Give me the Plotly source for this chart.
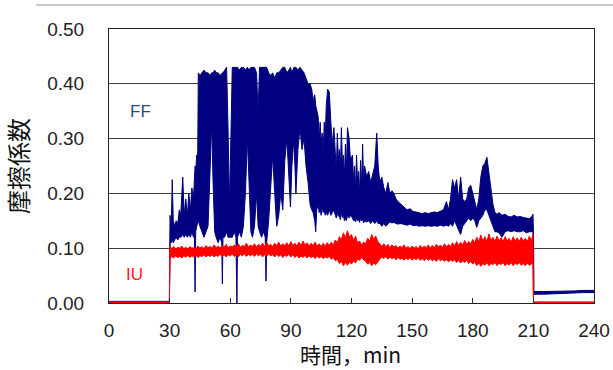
import plotly.graph_objects as go

# ---- FF series (friction coefficient), upper / lower envelope of the dense signal ----
ff_t = [0, 29.9, 30.2, 30.8, 31.3, 31.8, 32.5, 33.2, 34.0, 34.8, 35.5, 36.5, 37.2, 38.0, 38.8, 39.5,
        40.3, 41.0, 41.8, 42.3, 42.6, 42.9, 43.4, 43.9,
        44.2, 45, 46, 47, 48, 49, 50, 50.8, 51.5, 52.3, 53, 54, 55, 55.8, 56.1, 56.4, 57.2, 58.2,
        58.9, 59.6, 60.3, 61, 62, 62.8, 63.3, 63.6, 64.5, 65.5, 66.5, 67.5, 68.5, 69.3, 70.2, 71,
        72, 73, 73.8, 74.5, 75.5, 76.5, 77.3, 77.7, 78, 79, 80, 81, 82, 83, 84, 85, 86, 87, 88, 89,
        89.8, 90.5, 91.5, 92.5, 93.5, 94.5, 95.5, 96.5, 97.5, 98.5, 99.5,
        100.3, 101, 101.8, 102.3, 102.8, 103.5, 104, 104.5, 105, 105.5, 106, 106.5, 107, 107.5, 108.2, 109, 109.8,
        110.5, 111.3, 112, 112.5, 113, 113.5, 114, 114.5, 115, 115.5, 116, 116.5, 117, 117.5, 118, 118.8, 119.5,
        120.5, 121, 121.5, 122, 122.5, 123, 123.5, 124, 124.5, 125, 125.5, 126, 126.5, 127.5, 128.5, 129.5,
        130.5, 131.5, 132.5, 133.2, 134, 135, 136, 137,
        138, 139, 140, 141, 142, 143, 144.5, 146, 147.5, 149, 150.5, 152, 153.5, 155, 156.5, 158,
        159.5, 161, 162.5, 164, 165.5, 167, 168, 169, 170, 171, 172, 173, 174, 175, 176, 177, 178,
        179, 180, 181, 182, 183, 184, 185, 186, 187, 188, 189, 190, 191, 192, 193, 194.5, 196,
        197.5, 199, 200.5, 202, 203.5, 205, 206.5, 208, 209.3, 209.8, 210.05, 210.3, 215, 220,
        225, 230, 235, 240]
ff_hi = [0.003, 0.003, 0.16, 0.14, 0.225, 0.15, 0.14, 0.15, 0.145, 0.17, 0.16, 0.23, 0.16, 0.19, 0.16, 0.20,
         0.17, 0.21, 0.19, 0.22, 0.25, 0.24, 0.27, 0.27,
         0.42, 0.415, 0.42, 0.425, 0.42, 0.42, 0.415, 0.42, 0.42, 0.425, 0.42, 0.42, 0.415, 0.42, 0.42, 0.42, 0.425, 0.43,
         0.32, 0.18, 0.30, 0.43, 0.43, 0.43, 0.43, 0.43, 0.425, 0.43, 0.43, 0.425, 0.43, 0.425, 0.43, 0.43,
         0.43, 0.42, 0.35, 0.43, 0.43, 0.43, 0.43, 0.43, 0.43, 0.42, 0.415, 0.42, 0.41, 0.42, 0.42, 0.425, 0.43, 0.43, 0.42, 0.425,
         0.43, 0.42, 0.43, 0.43, 0.425, 0.43, 0.425, 0.42, 0.41, 0.40, 0.40,
         0.39, 0.37, 0.38, 0.36, 0.35, 0.34, 0.30, 0.33, 0.29, 0.31, 0.27, 0.33, 0.30, 0.36, 0.39, 0.385, 0.33,
         0.29, 0.32, 0.28, 0.24, 0.31, 0.26, 0.28, 0.24, 0.32, 0.25, 0.27, 0.23, 0.29, 0.24, 0.32, 0.30, 0.26,
         0.27, 0.22, 0.25, 0.21, 0.27, 0.22, 0.24, 0.20, 0.26, 0.21, 0.29, 0.22, 0.25, 0.23, 0.24, 0.22,
         0.235, 0.25, 0.31, 0.25, 0.22, 0.23, 0.21, 0.20,
         0.22, 0.20, 0.205, 0.20, 0.19, 0.185, 0.18, 0.175, 0.17, 0.172, 0.167, 0.166, 0.165, 0.163, 0.165, 0.163,
         0.165, 0.166, 0.165, 0.167, 0.17, 0.185, 0.17, 0.19, 0.225, 0.21, 0.225, 0.19, 0.23, 0.19, 0.185, 0.19, 0.21,
         0.215, 0.20, 0.18, 0.17, 0.19, 0.23, 0.25, 0.255, 0.266, 0.24, 0.21, 0.18, 0.165, 0.162, 0.165, 0.16, 0.162,
         0.158, 0.157, 0.16, 0.157, 0.158, 0.156, 0.155, 0.154, 0.158, 0.162, 0.13, 0.021, 0.021, 0.021,
         0.022, 0.022, 0.023, 0.023]
ff_lo = [0.0, 0.0, 0.11, 0.11, 0.115, 0.11, 0.115, 0.12, 0.115, 0.12, 0.12, 0.125, 0.12, 0.125, 0.12, 0.125,
         0.12, 0.13, 0.12, 0.12, 0.02, 0.13, 0.14, 0.15,
         0.15, 0.14, 0.13, 0.12, 0.13, 0.14, 0.24, 0.33, 0.22, 0.13, 0.12, 0.11, 0.12, 0.11, 0.035, 0.12, 0.12, 0.13,
         0.12, 0.12, 0.12, 0.12, 0.13, 0.12, 0.0, 0.12, 0.13, 0.12, 0.14, 0.20, 0.30, 0.22, 0.13, 0.12,
         0.14, 0.20, 0.14, 0.13, 0.12, 0.13, 0.12, 0.04, 0.11, 0.15, 0.22, 0.27, 0.20, 0.14, 0.16, 0.20, 0.17, 0.26, 0.30, 0.22,
         0.175, 0.25, 0.30, 0.20, 0.28, 0.32, 0.28, 0.30, 0.25, 0.22, 0.18,
         0.17, 0.165, 0.15, 0.13, 0.17, 0.18, 0.165, 0.17, 0.16, 0.175, 0.165, 0.17, 0.16, 0.165, 0.16, 0.17, 0.16,
         0.165, 0.17, 0.16, 0.155, 0.165, 0.158, 0.16, 0.152, 0.165, 0.156, 0.16, 0.15, 0.155, 0.15, 0.16, 0.155, 0.16,
         0.155, 0.15, 0.152, 0.148, 0.155, 0.15, 0.153, 0.147, 0.155, 0.15, 0.152, 0.146, 0.15, 0.148, 0.15, 0.145,
         0.15, 0.145, 0.15, 0.145, 0.145, 0.14, 0.145, 0.14,
         0.145, 0.148, 0.146, 0.147, 0.145, 0.144, 0.145, 0.143, 0.142, 0.144, 0.141, 0.142, 0.14, 0.141, 0.14, 0.141,
         0.14, 0.141, 0.14, 0.142, 0.14, 0.142, 0.14, 0.145, 0.14, 0.15, 0.14, 0.133, 0.125, 0.14, 0.145, 0.15, 0.155,
         0.15, 0.155, 0.15, 0.138, 0.15, 0.155, 0.16, 0.17, 0.17, 0.16, 0.15, 0.14, 0.13, 0.13, 0.128, 0.12, 0.13,
         0.132, 0.13, 0.132, 0.13, 0.13, 0.132, 0.128, 0.13, 0.13, 0.13, 0.017, 0.016, 0.016, 0.017,
         0.018, 0.018, 0.019, 0.019]

# ---- IU series (upper / lower envelope) ----
iu_t = [0, 29.9, 30.1,
        31, 32, 33, 34, 35, 36, 37, 38, 39, 40, 41, 42, 43, 44, 45, 46, 47, 48, 49, 50,
        51, 52, 53, 54, 55, 56, 57, 58, 59, 60, 61, 62, 63, 64, 65, 66, 67, 68, 69, 70,
        71, 72, 73, 74, 75, 76, 77, 78, 79, 80, 81, 82, 83, 84, 85, 86, 87, 88, 89, 90,
        91, 92, 93, 94, 95, 96, 97, 98, 99, 100, 101, 102, 103, 104, 105, 106, 107, 108, 109, 110,
        111, 112, 113, 114, 115, 116, 117, 118, 119, 120, 121, 122, 123, 124, 125, 126, 127, 128, 129, 130,
        131, 132, 133, 134, 135, 136, 137, 138, 139, 140, 141, 142, 143, 144, 145, 146, 147, 148, 149, 150,
        151, 152, 153, 154, 155, 156, 157, 158, 159, 160, 161, 162, 163, 164, 165, 166, 167, 168, 169, 170,
        171, 172, 173, 174, 175, 176, 177, 178, 179, 180, 181, 182, 183, 184, 185, 186, 187, 188, 189, 190,
        191, 192, 193, 194, 195, 196, 197, 198, 199, 200, 201, 202, 203, 204, 205, 206, 207, 208, 209, 209.8,
        210.05, 240]
iu_hi = [0.002, 0.002, 0.104,
         0.099, 0.103, 0.098, 0.102, 0.100, 0.104, 0.099, 0.102, 0.098, 0.103, 0.100, 0.101, 0.099, 0.104, 0.100, 0.103, 0.099, 0.105, 0.101, 0.103,
         0.100, 0.106, 0.101, 0.104, 0.100, 0.105, 0.102, 0.107, 0.101, 0.104, 0.102, 0.106, 0.101, 0.108, 0.102, 0.105, 0.103, 0.109, 0.102, 0.106,
         0.103, 0.108, 0.102, 0.107, 0.104, 0.109, 0.103, 0.111, 0.104, 0.107, 0.103, 0.109, 0.105, 0.111, 0.104, 0.108, 0.105, 0.110, 0.104, 0.112,
         0.105, 0.109, 0.104, 0.111, 0.105, 0.113, 0.106, 0.110, 0.104, 0.109, 0.105, 0.111, 0.104, 0.108, 0.103, 0.109, 0.104, 0.110, 0.105, 0.111,
         0.106, 0.115, 0.110, 0.121, 0.116, 0.128, 0.119, 0.132, 0.120, 0.125, 0.114, 0.122, 0.110, 0.113, 0.106, 0.111, 0.108, 0.118, 0.113, 0.125,
         0.116, 0.122, 0.112, 0.108, 0.103, 0.108, 0.102, 0.107, 0.101, 0.106, 0.102, 0.105, 0.100, 0.104, 0.101, 0.106, 0.100, 0.103, 0.099, 0.104,
         0.100, 0.103, 0.099, 0.105, 0.100, 0.104, 0.101, 0.106, 0.100, 0.105, 0.101, 0.107, 0.102, 0.106, 0.101, 0.108, 0.102, 0.107, 0.103, 0.110,
         0.104, 0.112, 0.105, 0.111, 0.106, 0.114, 0.107, 0.112, 0.108, 0.116, 0.110, 0.120, 0.112, 0.124, 0.113, 0.121, 0.112, 0.126, 0.114, 0.120,
         0.112, 0.122, 0.113, 0.119, 0.112, 0.121, 0.113, 0.118, 0.111, 0.121, 0.113, 0.119, 0.112, 0.120, 0.113, 0.118, 0.112, 0.122, 0.114, 0.126,
         0.002, 0.002]
iu_lo = [0.0, 0.0, 0.080,
         0.085, 0.082, 0.086, 0.083, 0.085, 0.082, 0.086, 0.084, 0.087, 0.083, 0.086, 0.084, 0.087, 0.083, 0.086, 0.085, 0.088, 0.084, 0.087, 0.085,
         0.088, 0.084, 0.087, 0.085, 0.089, 0.085, 0.088, 0.084, 0.088, 0.086, 0.089, 0.085, 0.088, 0.084, 0.089, 0.086, 0.090, 0.085, 0.089, 0.086,
         0.089, 0.085, 0.090, 0.086, 0.089, 0.084, 0.088, 0.085, 0.090, 0.086, 0.088, 0.084, 0.089, 0.085, 0.088, 0.083, 0.087, 0.085, 0.089, 0.084,
         0.088, 0.083, 0.087, 0.082, 0.086, 0.083, 0.087, 0.082, 0.086, 0.083, 0.085, 0.081, 0.086, 0.082, 0.085, 0.081, 0.084, 0.082, 0.085, 0.080,
         0.083, 0.077, 0.080, 0.072, 0.076, 0.068, 0.074, 0.069, 0.075, 0.071, 0.077, 0.073, 0.080, 0.078, 0.083, 0.079, 0.076, 0.071, 0.074, 0.068,
         0.073, 0.070, 0.076, 0.080, 0.084, 0.081, 0.085, 0.080, 0.084, 0.081, 0.083, 0.079, 0.083, 0.080, 0.082, 0.078, 0.082, 0.079, 0.083, 0.078,
         0.082, 0.079, 0.083, 0.078, 0.081, 0.077, 0.082, 0.078, 0.081, 0.077, 0.080, 0.076, 0.081, 0.077, 0.080, 0.076, 0.079, 0.075, 0.079, 0.076,
         0.079, 0.074, 0.078, 0.073, 0.077, 0.074, 0.078, 0.072, 0.076, 0.071, 0.075, 0.068, 0.073, 0.067, 0.072, 0.069, 0.074, 0.068, 0.072, 0.070,
         0.074, 0.068, 0.073, 0.070, 0.074, 0.068, 0.072, 0.069, 0.074, 0.068, 0.073, 0.070, 0.074, 0.069, 0.072, 0.068, 0.073, 0.069, 0.071, 0.074,
         0.0, 0.0]

x_ticks = [0, 30, 60, 90, 120, 150, 180, 210, 240]
y_ticks = [0.0, 0.1, 0.2, 0.3, 0.4, 0.5]

FF_COLOR = "#000080"
IU_COLOR = "#ff0000"

fig = go.Figure()
fig.add_trace(go.Scatter(x=ff_t, y=ff_lo, mode="lines", line=dict(color=FF_COLOR, width=1),
                         showlegend=False, hoverinfo="skip"))
fig.add_trace(go.Scatter(x=ff_t, y=ff_hi, mode="lines", line=dict(color=FF_COLOR, width=1),
                         fill="tonexty", fillcolor=FF_COLOR, showlegend=False, name="FF"))
fig.add_trace(go.Scatter(x=iu_t, y=iu_lo, mode="lines", line=dict(color=IU_COLOR, width=1),
                         showlegend=False, hoverinfo="skip"))
fig.add_trace(go.Scatter(x=iu_t, y=iu_hi, mode="lines", line=dict(color=IU_COLOR, width=1),
                         fill="tonexty", fillcolor=IU_COLOR, showlegend=False, name="IU"))

tick_font = dict(family="Liberation Sans, Arial, sans-serif", size=19, color="#222222")

fig.update_layout(
    width=613, height=370,
    margin=dict(l=109, r=19, t=29, b=67),
    paper_bgcolor="white", plot_bgcolor="white",
    xaxis=dict(range=[0, 240], tickvals=x_ticks, ticktext=[str(v) for v in x_ticks],
               ticks="inside", ticklen=5, tickcolor="#333333", tickwidth=1, automargin=False,
               showgrid=False, zeroline=False, showline=True, linecolor="#222222", linewidth=1,
               mirror=True, tickfont=tick_font, ticklabelstandoff=10),
    yaxis=dict(range=[0, 0.5], tickvals=y_ticks, tickformat=".2f", ticks="", automargin=False,
               showgrid=True, gridcolor="#404040", gridwidth=1, zeroline=False,
               showline=True, linecolor="#222222", linewidth=1, mirror=True, tickfont=tick_font,
               ticklabelstandoff=20,
               title=dict(text="摩擦係数", font=dict(family="Noto Sans CJK JP, sans-serif", size=24, color="#111111"),
                          standoff=11)),
    shapes=[dict(type="line", xref="paper", yref="paper", x0=-0.15, x1=1.04, y0=1.0876, y1=1.0876,
                 line=dict(color="#c8c8c8", width=2))],
    annotations=[
        dict(text="時間，min", x=0.497, y=-0.186, xref="paper", yref="paper", showarrow=False,
             xanchor="center", yanchor="middle",
             font=dict(family="Noto Sans CJK JP, sans-serif", size=21, color="#111111")),
        dict(text="FF", x=15.5, y=0.35, xref="x", yref="y", showarrow=False,
             font=dict(family="Liberation Sans, Arial, sans-serif", size=17, color="#2b4a80")),
        dict(text="IU", x=12.5, y=0.052, xref="x", yref="y", showarrow=False,
             font=dict(family="Liberation Sans, Arial, sans-serif", size=17, color="#ff2020")),
    ],
)

fig.write_html("out.html", config={"displayModeBar": False},
               post_script="document.body.style.margin='0';")
